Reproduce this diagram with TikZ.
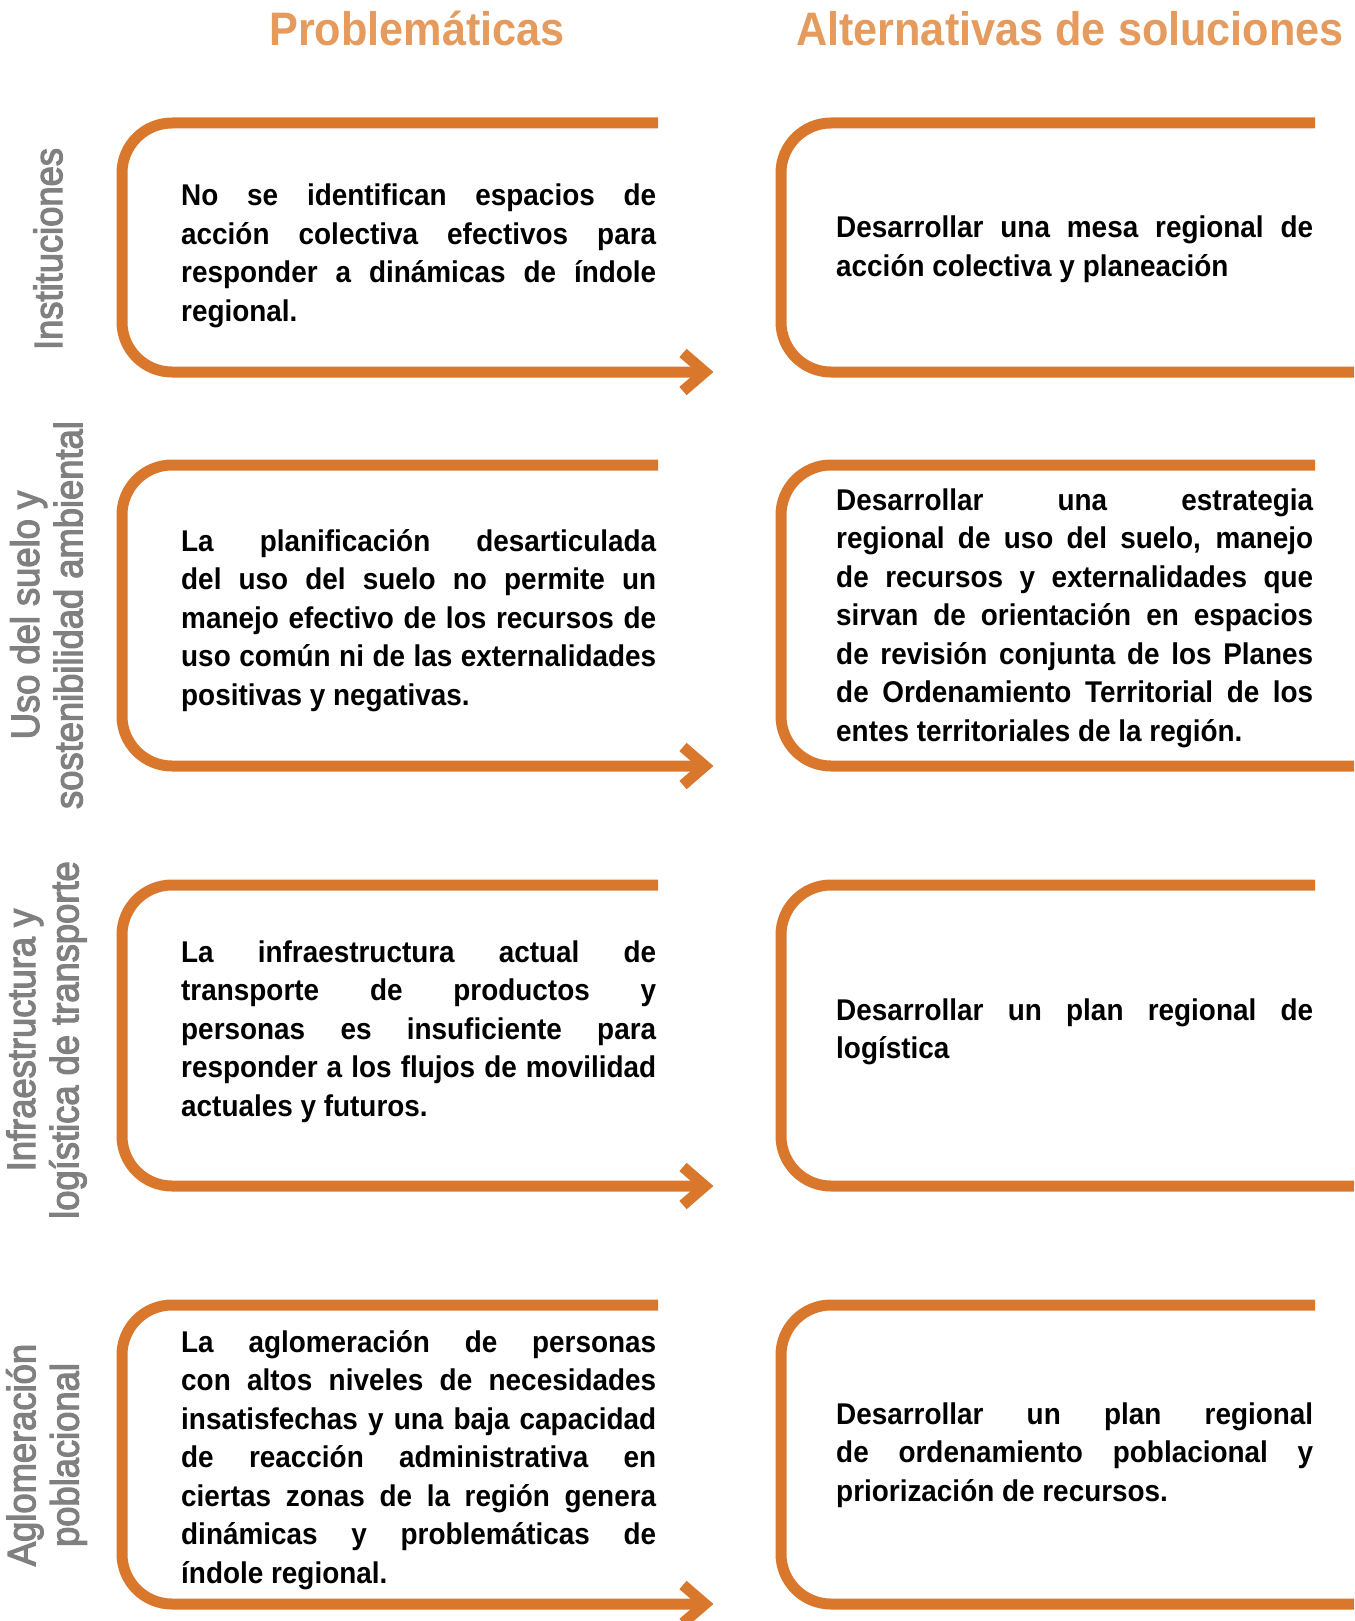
\documentclass[tikz,border=0pt]{standalone}
\usepackage{fontspec}
\newfontfamily\bodyfont[FakeStretch=0.93]{Liberation Sans}
\newfontfamily\titlefont[FakeStretch=0.92]{Liberation Sans}
\newfontfamily\labelfont[FakeStretch=0.92,FakeBold=3]{Liberation Sans}
\definecolor{lineor}{HTML}{D9772C}
\definecolor{titleor}{HTML}{E69B5E}
\definecolor{labelgray}{HTML}{808080}
\newcommand\J[1]{\makebox[\linewidth][s]{#1}\\}
\tikzset{
  boxline/.style={draw=lineor, line width=11pt, rounded corners=50pt},
  chevron/.style={draw=lineor, line width=11pt, line join=miter},
  bodytext/.style={anchor=base west, inner sep=0pt, font=\bodyfont\bfseries\fontsize{30}{38.5}\selectfont, text=black},
  sidelabel/.style={rotate=90, align=center, inner sep=0pt, font=\labelfont\fontsize{39.5}{43.4}\selectfont, text=labelgray},
  headtitle/.style={anchor=base, inner sep=0pt, font=\titlefont\bfseries\fontsize{47}{50}\selectfont, text=titleor}
}
\newcommand\leftbox[2]{%
  \draw[boxline] (658,#1) -- (122,#1) -- (122,#2) -- (700,#2);
  \draw[chevron] (683,#2-19) -- (705,#2) -- (683,#2+19);}
\newcommand\rightbox[2]{%
  \draw[boxline] (1315,#1) -- (781,#1) -- (781,#2) -- (1354,#2);}
\begin{document}
\begin{tikzpicture}[x=1pt,y=-1pt]
\useasboundingbox (0,0) rectangle (1354,1621);
% titles
\node[headtitle] (t1) at (417,46) {Problemáticas};
\node[headtitle] (t2) at (1070,46) {Alternativas de soluciones};
% boxes
\leftbox{123}{372}
\rightbox{123}{372}
\leftbox{465}{766}
\rightbox{465}{766}
\leftbox{885}{1186}
\rightbox{885}{1186}
\leftbox{1305}{1604}
\rightbox{1305}{1604}
% side labels
\node[sidelabel] (s1) at (48,249) {Instituciones};
\node[sidelabel] (s2) at (46.5,615) {Uso del suelo y\\sostenibilidad ambiental};
\node[sidelabel] (s3) at (46.5,1040) {Infraestructura y\\logística de transporte};
\node[sidelabel] (s4) at (46.5,1455) {Aglomeración\\poblacional};
% texts
\node[bodytext] (p1) at (181,206) {\parbox[t]{475pt}{%
\J{No se identifican espacios de}
\J{acción colectiva efectivos para}
\J{responder a dinámicas de índole}
regional.}};
\node[bodytext] (a1) at (836,238) {\parbox[t]{477pt}{%
\J{Desarrollar una mesa regional de}
acción colectiva y planeación}};
\node[bodytext] (p2) at (181,551) {\parbox[t]{475pt}{%
\J{La planificación desarticulada}
\J{del uso del suelo no permite un}
\J{manejo efectivo de los recursos de}
\J{uso común ni de las externalidades}
positivas y negativas.}};
\node[bodytext] (a2) at (836,510) {\parbox[t]{477pt}{%
\J{Desarrollar una estrategia}
\J{regional de uso del suelo, manejo}
\J{de recursos y externalidades que}
\J{sirvan de orientación en espacios}
\J{de revisión conjunta de los Planes}
\J{de Ordenamiento Territorial de los}
entes territoriales de la región.}};
\node[bodytext] (p3) at (181,962) {\parbox[t]{475pt}{%
\J{La infraestructura actual de}
\J{transporte de productos y}
\J{personas es insuficiente para}
\J{responder a los flujos de movilidad}
actuales y futuros.}};
\node[bodytext] (a3) at (836,1020) {\parbox[t]{477pt}{%
\J{Desarrollar un plan regional de}
logística}};
\node[bodytext] (p4) at (181,1352) {\parbox[t]{475pt}{%
\J{La aglomeración de personas}
\J{con altos niveles de necesidades}
\J{insatisfechas y una baja capacidad}
\J{de reacción administrativa en}
\J{ciertas zonas de la región genera}
\J{dinámicas y problemáticas de}
índole regional.}};
\node[bodytext] (a4) at (836,1424) {\parbox[t]{477pt}{%
\J{Desarrollar un plan regional}
\J{de ordenamiento poblacional y}
priorización de recursos.}};
\end{tikzpicture}
\end{document}
